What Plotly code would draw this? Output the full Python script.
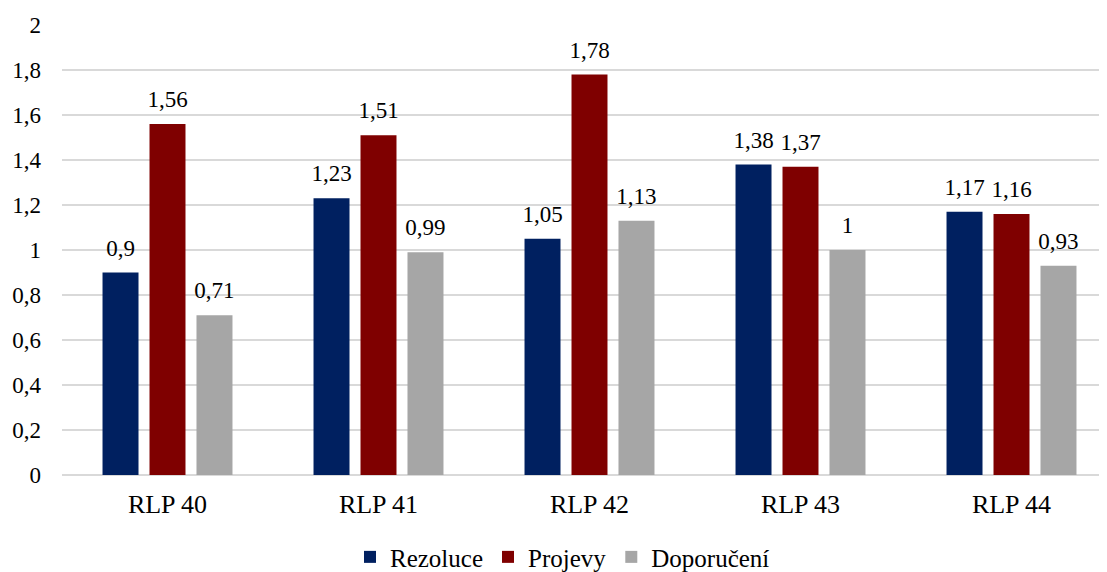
import plotly.graph_objects as go

categories = ["RLP 40", "RLP 41", "RLP 42", "RLP 43", "RLP 44"]
rezoluce = [0.9, 1.23, 1.05, 1.38, 1.17]
projevy = [1.56, 1.51, 1.78, 1.37, 1.16]
doporuceni = [0.71, 0.99, 1.13, 1.0, 0.93]

series = [
    ("Rezoluce", rezoluce, "#002060"),
    ("Projevy", projevy, "#7F0000"),
    ("Doporučení", doporuceni, "#A6A6A6"),
]

FONT = "Times New Roman, Liberation Serif, DejaVu Serif, serif"
LABEL_GAP = 0.04  # visual gap between bar top and its value label (axis units)

def fmt(v):
    return ("%g" % v).replace(".", ",")

fig = go.Figure()
for name, vals, color in series:
    fig.add_trace(go.Bar(
        name=name, x=categories, y=vals, offsetgroup=name,
        marker=dict(color=color, line=dict(width=0)),
        hoverinfo="x+y+name",
    ))
for name, vals, color in series:
    # transparent carrier bars that lift the value labels slightly above each bar
    fig.add_trace(go.Bar(
        name=name, x=categories, y=[LABEL_GAP] * len(vals), base=vals, offsetgroup=name,
        marker=dict(color="rgba(0,0,0,0)", line=dict(width=0)),
        text=[fmt(v) for v in vals], textposition="outside", constraintext="none",
        textfont=dict(family=FONT, size=23, color="#000000"),
        cliponaxis=False, showlegend=False, hoverinfo="skip",
    ))

fig.update_layout(
    width=1109, height=572,
    margin=dict(l=54, r=0, t=17, b=105, autoexpand=False),
    paper_bgcolor="white", plot_bgcolor="white",
    barmode="group", bargap=0.332, bargroupgap=0.234,
    separators=", ",
    font=dict(family=FONT, size=23, color="#000000"),
    showlegend=True,
    legend=dict(orientation="h", x=0.5, xanchor="center", xref="container",
                y=0.040, yanchor="middle", yref="container",
                font=dict(family=FONT, size=25, color="#000000"),
                itemwidth=30, traceorder="normal"),
)
fig.update_yaxes(range=[0, 2], dtick=0.2, showgrid=True, gridcolor="#D9D9D9", gridwidth=1.5,
                 zeroline=True, zerolinecolor="#D9D9D9", zerolinewidth=1.5,
                 showline=False, ticks="", ticklabelstandoff=20, automargin=False,
                 tickfont=dict(family=FONT, size=23, color="#000000"))
fig.update_xaxes(showline=False, ticks="", ticklabelstandoff=11, automargin=False,
                 tickfont=dict(family=FONT, size=26, color="#000000"))

fig.write_html("out.html")
